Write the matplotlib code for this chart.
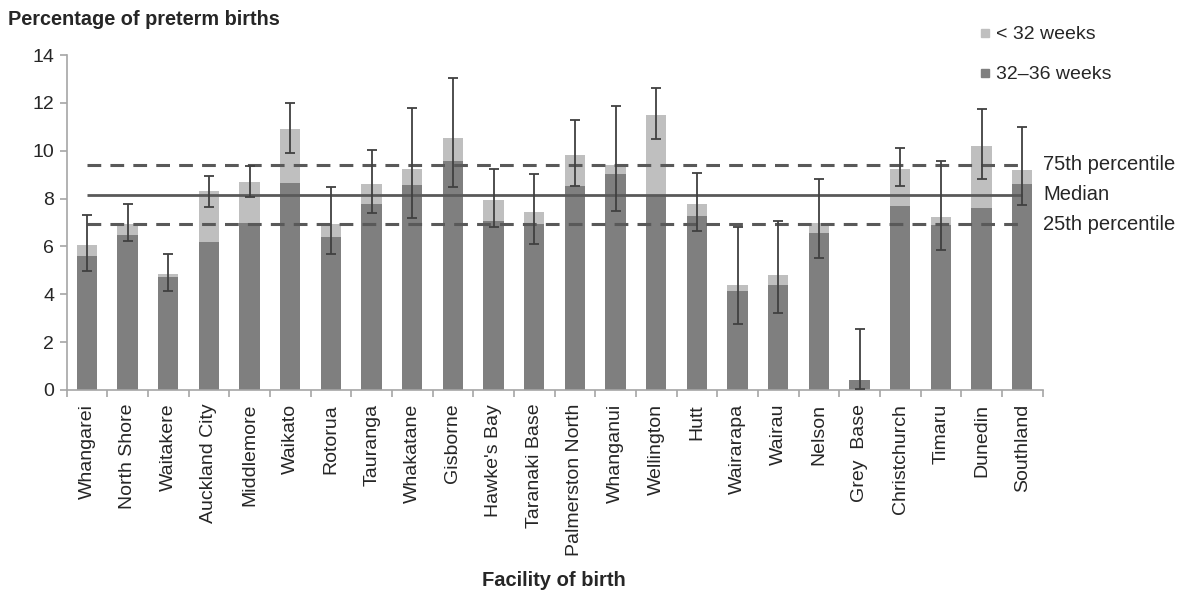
import matplotlib
matplotlib.use('Agg')
from matplotlib import pyplot as plt
from matplotlib.lines import Line2D
import numpy as np

plt.rcParams['font.family'] = ['Liberation Sans', 'DejaVu Sans']

# data
facilities = ['Whangarei', 'North Shore', 'Waitakere', 'Auckland City', 'Middlemore',
              'Waikato', 'Rotorua', 'Tauranga', 'Whakatane', 'Gisborne', "Hawke's Bay",
              'Taranaki Base', 'Palmerston North', 'Whanganui', 'Wellington', 'Hutt',
              'Wairarapa', 'Wairau', 'Nelson', 'Grey  Base', 'Christchurch', 'Timaru',
              'Dunedin', 'Southland']
weeks_32_36 = [5.59, 6.46, 4.70, 6.18, 6.99, 8.64, 6.40, 7.77, 8.56, 9.56, 7.06, 6.93,
               8.52, 9.02, 8.14, 7.27, 4.12, 4.38, 6.54, 0.42, 7.67, 6.88, 7.59, 8.61]
under_32 = [0.45, 0.47, 0.13, 2.12, 1.71, 2.27, 0.53, 0.84, 0.67, 0.95, 0.87, 0.52,
            1.31, 0.40, 3.36, 0.50, 0.25, 0.41, 0.45, 0.00, 1.56, 0.33, 2.60, 0.58]
ci_low = [4.98, 6.21, 4.12, 7.65, 8.05, 9.92, 5.68, 7.40, 7.17, 8.48, 6.82, 6.10,
          8.53, 7.49, 10.47, 6.64, 2.77, 3.23, 5.52, 0.05, 8.53, 5.83, 8.80, 7.72]
ci_high = [7.31, 7.77, 5.68, 8.94, 9.35, 11.98, 8.48, 10.01, 11.80, 13.03, 9.24, 9.03,
           11.29, 11.86, 12.62, 9.06, 6.82, 7.06, 8.82, 2.53, 10.12, 9.56, 11.73, 10.97]
p25, median, p75 = 6.93, 8.16, 9.41

dark = '#7f7f7f'
light = '#bfbfbf'
txt = '#262626'

x = np.arange(len(facilities))
dark_v = np.array(weeks_32_36)
light_v = np.array(under_32)
total = dark_v + light_v
yerr = [total - np.array(ci_low), np.array(ci_high) - total]

fig = plt.figure(figsize=(11.82, 5.98), dpi=100)
ax = fig.add_axes([0.0564, 0.348, 0.8257, 0.560])

ax.bar(x, dark_v, width=0.5, color=dark, zorder=2)
ax.bar(x, light_v, width=0.5, bottom=dark_v, color=light, zorder=2)
ax.errorbar(x, total, yerr=yerr, fmt='none', ecolor='#404040', elinewidth=1.3,
            capsize=3.8, capthick=1.3, zorder=4)

# reference lines
line_col = '#595959'
ax.hlines([p25, p75], x[0], x[-1], colors=line_col, linestyles=(0, (4.5, 3)),
          linewidth=2.2, zorder=3)
ax.hlines(median, x[0], x[-1], colors=line_col, linewidth=2.0, zorder=3)
for val, lab in [(p75, '75th percentile'), (median, 'Median'), (p25, '25th percentile')]:
    ax.text(len(facilities) - 0.5 + 0.02, val, lab, va='center', ha='left',
            fontsize=14.5, color=txt, clip_on=False)

ax.set_xlim(-0.5, len(facilities) - 0.5)
ax.set_ylim(0, 14)
ax.set_yticks(np.arange(0, 15, 2))
ax.set_xticks(x)
ax.set_xticklabels(facilities, rotation=90)
ax.set_xticks(np.arange(-0.5, len(facilities)), minor=True)
ax.tick_params(axis='x', which='major', length=0, pad=10, labelsize=14, labelcolor=txt)
ax.tick_params(axis='x', which='minor', length=5, color='#a6a6a6', width=1.2)
ax.tick_params(axis='y', length=5, color='#a6a6a6', width=1.2, labelsize=14,
               labelcolor=txt, pad=4)
for s in ['top', 'right']:
    ax.spines[s].set_visible(False)
for s in ['left', 'bottom']:
    ax.spines[s].set_color('#a6a6a6')
    ax.spines[s].set_linewidth(1.2)

handles = [Line2D([], [], marker='s', linestyle='none', markersize=6,
                  markerfacecolor=light, markeredgecolor=light),
           Line2D([], [], marker='s', linestyle='none', markersize=6,
                  markerfacecolor=dark, markeredgecolor=dark)]
fig.legend(handles, ['< 32 weeks', '32\u201336 weeks'], loc='upper left',
           bbox_to_anchor=(0.8145, 0.986), frameon=False, fontsize=14,
           handlelength=0.5, handletextpad=0.3, labelspacing=1.15, labelcolor=txt)

fig.text(0.007, 0.968, 'Percentage of preterm births', fontsize=14.3, fontweight='bold',
         color=txt, va='center')
fig.text(0.469, 0.03, 'Facility of birth', fontsize=14.5, fontweight='bold',
         color=txt, ha='center', va='center')

fig.savefig('out.png', dpi=100)
